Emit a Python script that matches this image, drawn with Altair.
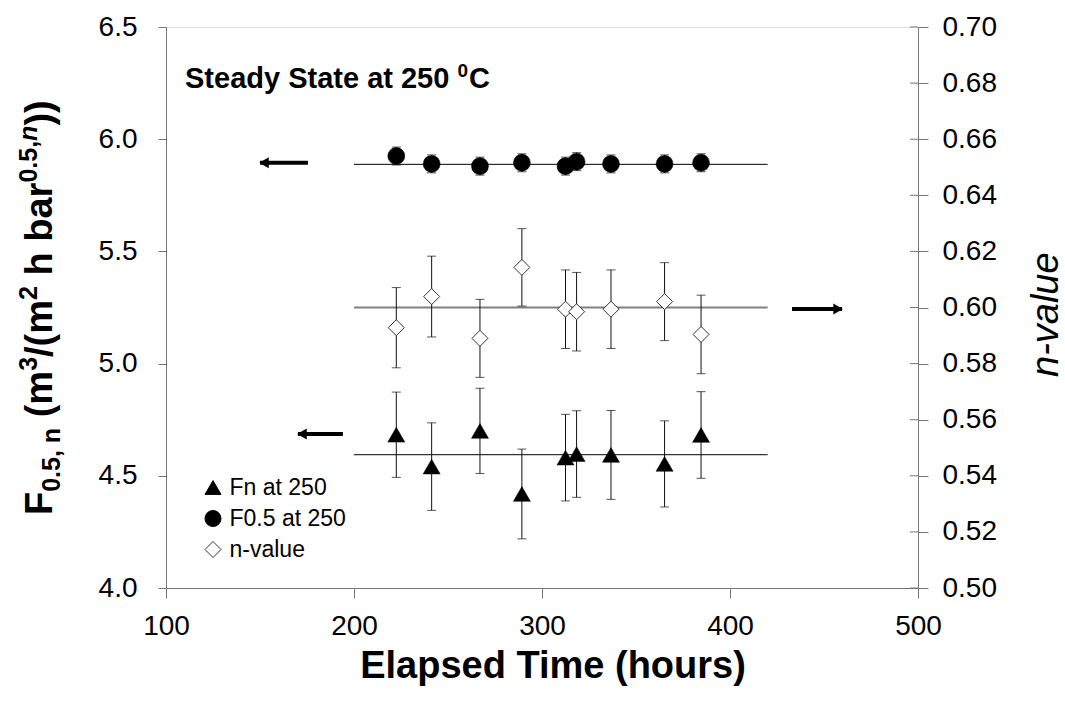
import altair as alt
import pandas as pd

# ---------------- data ----------------
hours = [222.5, 241.3, 267.0, 289.3, 312.5, 318.4, 336.7, 365.2, 384.6]
f05_values = [5.925, 5.890, 5.880, 5.895, 5.880, 5.900, 5.890, 5.890, 5.895]
f05_errors = [0.04, 0.04, 0.04, 0.04, 0.04, 0.04, 0.04, 0.04, 0.04]
fn_values = [4.683, 4.541, 4.700, 4.419, 4.581, 4.597, 4.593, 4.553, 4.682]
fn_errors = [0.190, 0.195, 0.190, 0.200, 0.193, 0.193, 0.198, 0.192, 0.193]
n_values = [0.5928, 0.6039, 0.5890, 0.6143, 0.5994, 0.5985, 0.5994, 0.6021, 0.5904]
n_errors = [0.0143, 0.0144, 0.0139, 0.0138, 0.0140, 0.0140, 0.0140, 0.0139, 0.0140]
series_names = ["Fn at 250", "F0.5 at 250", "n-value"]

fit_start = 200
fit_end = 420
fit_f05 = 5.888
fit_fn = 4.594
fit_n = 0.600

left_arrow_y = [5.895, 4.686]
left_arrow_tail = [175.5, 194.1]
left_arrow_head = [150.0, 170.2]
right_arrow_y = [0.5995]
right_arrow_tail = [433.0]
right_arrow_head = [459.6]

x_ticks = [100, 200, 300, 400, 500]
left_ticks = [4.0, 4.5, 5.0, 5.5, 6.0, 6.5]
right_ticks = [0.50, 0.52, 0.54, 0.56, 0.58, 0.60, 0.62, 0.64, 0.66, 0.68, 0.70]

# ---------------- layout / style ----------------
W, H = 752, 561
FONT = "Liberation Sans"
AX = "#777777"
LABEL = 28

left_df = pd.DataFrame({
    "hours": hours + hours,
    "value": fn_values + f05_values,
    "err": fn_errors + f05_errors,
    "series": [series_names[0]] * len(hours) + [series_names[1]] * len(hours),
})
left_df["lo"] = left_df["value"] - left_df["err"]
left_df["hi"] = left_df["value"] + left_df["err"]

right_df = pd.DataFrame({"hours": hours, "value": n_values, "err": n_errors,
                         "series": [series_names[2]] * len(hours)})
right_df["lo"] = right_df["value"] - right_df["err"]
right_df["hi"] = right_df["value"] + right_df["err"]

fit_left_df = pd.DataFrame({"x0": [fit_start, fit_start], "x1": [fit_end, fit_end],
                            "y": [fit_f05, fit_fn]})
fit_right_df = pd.DataFrame({"x0": [fit_start], "x1": [fit_end], "y": [fit_n]})
arrow_left_df = pd.DataFrame({"tail": left_arrow_tail, "head": left_arrow_head, "y": left_arrow_y})
arrow_right_df = pd.DataFrame({"tail": right_arrow_tail, "head": right_arrow_head, "y": right_arrow_y})
rtick_df = pd.DataFrame({"tick": right_ticks})

xscale = alt.Scale(domain=[100, 500], nice=False, zero=False)
xaxis = alt.Axis(values=x_ticks, format="d", title="", grid=False, labelFont=FONT,
                 labelFontSize=LABEL, labelColor="black", tickSize=10, labelPadding=14,
                 domainColor=AX, tickColor=AX, labelFlush=False)
ylscale = alt.Scale(domain=[4.0, 6.5], nice=False, zero=False)
ylaxis = alt.Axis(values=left_ticks, format=".1f", title="", grid=False, orient="left",
                  labelFont=FONT, labelFontSize=LABEL, labelColor="black", tickSize=8,
                  labelPadding=21, domainColor=AX, tickColor=AX, labelFlush=False)
yrscale = alt.Scale(domain=[0.50, 0.70], nice=False, zero=False)
yraxis = alt.Axis(values=right_ticks, format=".2f", title="", grid=False, orient="right",
                  labelFont=FONT, labelFontSize=LABEL, labelColor="black", tickSize=10,
                  labelPadding=14, domainColor=AX, tickColor=AX, labelFlush=False)


def X(f):
    return alt.X(f"{f}:Q", scale=xscale, axis=xaxis)


def YL(f):
    return alt.Y(f"{f}:Q", scale=ylscale, axis=ylaxis)


def YR(f):
    return alt.Y(f"{f}:Q", scale=yrscale, axis=yraxis)


legend = alt.Legend(orient="none", legendX=35.5, legendY=449, title=None, labelFont=FONT,
                    labelFontSize=23, labelColor="black", symbolSize=256,
                    symbolStrokeWidth=1, rowPadding=7, labelOffset=5, padding=0)
shape_enc = alt.Shape("series:N", scale=alt.Scale(domain=series_names,
                      range=["triangle-up", "circle", "diamond"]), legend=legend)
fill_enc = alt.Fill("series:N", scale=alt.Scale(domain=series_names,
                    range=["black", "black", "white"]), legend=legend)
stroke_enc = alt.Stroke("series:N", scale=alt.Scale(domain=series_names,
                        range=["black", "black", "#333333"]), legend=legend)

# ---- left-axis group ----
l_fit = alt.Chart(fit_left_df).mark_rule(color="black", strokeWidth=1).encode(
    x=X("x0"), x2="x1", y=YL("y"))
l_bar = alt.Chart(left_df).mark_rule(color="#111111", strokeWidth=1).encode(
    x=X("hours"), y=YL("lo"), y2="hi")
l_cap_lo = alt.Chart(left_df).mark_tick(orient="horizontal", size=9, thickness=1,
                                        color="#111111").encode(x=X("hours"), y=YL("lo"))
l_cap_hi = alt.Chart(left_df).mark_tick(orient="horizontal", size=9, thickness=1,
                                        color="#111111").encode(x=X("hours"), y=YL("hi"))
l_pts = alt.Chart(left_df).mark_point(filled=True, size=289, strokeWidth=0.5,
                                      opacity=1).encode(
    x=X("hours"), y=YL("value"), shape=shape_enc, fill=fill_enc, stroke=stroke_enc)
l_arr = alt.Chart(arrow_left_df).mark_rule(color="black", strokeWidth=4).encode(
    x=X("tail"), x2="head", y=YL("y"))
l_head = alt.Chart(arrow_left_df).mark_point(shape="triangle-left", filled=True, size=120,
                                             color="black", opacity=1, xOffset=4).encode(
    x=X("head"), y=YL("y"))
left_group = alt.layer(l_fit, l_bar, l_cap_lo, l_cap_hi, l_pts, l_arr, l_head)

# ---- right-axis group ----
r_fit = alt.Chart(fit_right_df).mark_rule(color="#808080", strokeWidth=2).encode(
    x=X("x0"), x2="x1", y=YR("y"))
r_bar = alt.Chart(right_df).mark_rule(color="#111111", strokeWidth=1).encode(
    x=X("hours"), y=YR("lo"), y2="hi")
r_cap_lo = alt.Chart(right_df).mark_tick(orient="horizontal", size=9, thickness=1,
                                         color="#111111").encode(x=X("hours"), y=YR("lo"))
r_cap_hi = alt.Chart(right_df).mark_tick(orient="horizontal", size=9, thickness=1,
                                         color="#111111").encode(x=X("hours"), y=YR("hi"))
r_pts = alt.Chart(right_df).mark_point(filled=False, size=256, strokeWidth=1,
                                       opacity=1).encode(
    x=X("hours"), y=YR("value"), shape=shape_enc, stroke=stroke_enc, fill=fill_enc)
r_inner = alt.Chart(rtick_df).mark_rule(color=AX, strokeWidth=1).encode(
    x=alt.value(W - 8), x2=alt.value(W), y=YR("tick"))
r_arr = alt.Chart(arrow_right_df).mark_rule(color="black", strokeWidth=4).encode(
    x=X("tail"), x2="head", y=YR("y"))
r_head = alt.Chart(arrow_right_df).mark_point(shape="triangle-right", filled=True, size=120,
                                              color="black", opacity=1, xOffset=-4).encode(
    x=X("head"), y=YR("y"))
right_group = alt.layer(r_fit, r_bar, r_cap_lo, r_cap_hi, r_pts, r_inner, r_arr, r_head)


# ---- text (titles and annotation) ----
def text_layer(txt, x, y, size, weight="bold", style="normal", angle=0, align="left"):
    return alt.Chart(pd.DataFrame({"t": [txt]})).mark_text(
        font=FONT, fontSize=size, fontWeight=weight, fontStyle=style, angle=angle,
        align=align, baseline="alphabetic", color="black").encode(
        text="t:N", x=alt.value(x), y=alt.value(y))


# Arial/Liberation Sans Bold advance widths (per 1000 em) for laying out the rich title
ADV = {"F": 611, "0": 556, ".": 278, "5": 556, ",": 278, " ": 278, "n": 611, "(": 333,
       "m": 889, "3": 556, "/": 278, "2": 556, "h": 611, "b": 611, "a": 556, "r": 389,
       ")": 333, "S": 667, "t": 333, "e": 556, "d": 611, "y": 556, "C": 722}


def width(txt, size):
    return sum(ADV.get(c, 556) for c in txt) * size / 1000.0


S, s = 38, 25
space = 0.278 * S
base_main, base_sub, base_sup = -114, -106, -129
# (text, font size, baseline x, style, gap before)
segments = [("F", S, base_main, "normal", 0), ("0.5, n", s, base_sub, "normal", 0),
            ("(m", S, base_main, "normal", space), ("3", s, base_sup, "normal", 0),
            ("/(m", S, base_main, "normal", 0), ("2", s, base_sup, "normal", 0),
            ("h bar", S, base_main, "normal", space), ("0.5,", s, base_sup, "normal", 0),
            ("n", s, base_sup, "italic", 0), ("))", S, base_main, "normal", 0)]
texts = []
ypos = 488.0
for txt, size, xb, style, gap in segments:
    ypos -= gap
    texts.append(text_layer(txt, xb, ypos, size, style=style, angle=270))
    ypos -= width(txt, size)

texts.append(text_layer("n-value", 892, 350, 38, weight="normal", style="italic", angle=270))
texts.append(text_layer("Elapsed Time (hours)", 387, 651, 38, align="center"))

ann = "Steady State at 250"
ann_x, ann_y, ann_size = 19, 61, 29
texts.append(text_layer(ann, ann_x, ann_y, ann_size))
sup_x = ann_x + width(ann, ann_size) + 0.278 * ann_size
texts.append(text_layer("0", sup_x, ann_y - 11, 19))
texts.append(text_layer("C", sup_x + width("0", 19) + 1, ann_y, ann_size))

chart = alt.layer(left_group, right_group, *texts).resolve_scale(
    y="independent"
).properties(
    width=W, height=H, autosize=alt.AutoSizeParams(type="none"),
    padding={"left": 166, "top": 27, "right": 147, "bottom": 123},
).configure_view(stroke=AX, strokeWidth=1).configure(background="white")

chart.save("out.html", embed_options={"renderer": "svg", "actions": False})
